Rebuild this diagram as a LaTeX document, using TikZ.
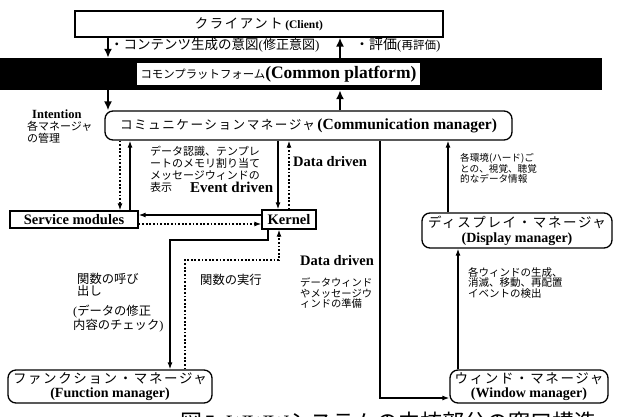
\documentclass[tikz,border=0pt]{standalone}
\usepackage{fontspec}
\setmainfont{Liberation Serif}
\newfontfamily\jpf{Noto Sans CJK JP}
\newfontfamily\jpw[LetterSpace=12]{Noto Sans CJK JP}
\usetikzlibrary{arrows.meta,calc}
\newcommand{\fs}[1]{\fontsize{#1}{#1}\selectfont}
\begin{document}
\begin{tikzpicture}[x=1pt,y=-1pt,
  box/.style={draw,line width=1.3pt,inner sep=0pt},
  rbox/.style={draw,line width=1.3pt,rounded corners=8pt,inner sep=0pt,align=center},
  arr/.style={line width=1.2pt,-{Latex[length=7pt,width=5pt]}},
  bigarr/.style={line width=2.6pt,-{Latex[length=9pt,width=8pt]}},
  dotarr/.style={line width=1.6pt,dash pattern=on 1.8pt off 1.8pt,-{Latex[length=7pt,width=5pt]}},
  ann/.style={inner sep=0pt,align=left,anchor=north west},
  lab/.style={inner sep=0pt,anchor=west}
]
\useasboundingbox (0,0) rectangle (626,416);
\clip (0,0) rectangle (626,416);

% column / row coordinates
\coordinate (c108) at (108,0);
\coordinate (c340) at (340,0);
\coordinate (c120) at (120,0);
\coordinate (c130) at (130,0);
\coordinate (c278) at (278,0);
\coordinate (c289) at (289,0);
\coordinate (c268) at (268,0);
\coordinate (c170) at (170,0);
\coordinate (c185) at (185,0);
\coordinate (c279) at (279,0);
\coordinate (c380) at (380,0);
\coordinate (c448) at (448,0);
\coordinate (c458) at (458,0);
\coordinate (r215) at (0,215);
\coordinate (r224) at (0,224);
\coordinate (r240) at (0,240);
\coordinate (r260) at (0,260);
\coordinate (r398) at (0,398);

% boxes
\node[box,minimum width=368,minimum height=26] (client) at (259,24)
  {{\jpw\fs{13.4}クライアント} {\fs{11.5}\bfseries(Client)}};
\node[fill=black,inner sep=0pt,minimum width=602,minimum height=32] (bar) at (301,74) {};
\node[fill=white,inner sep=0pt,minimum width=283,minimum height=22] (plat) at (278.5,74)
  {{\jpf\fs{11.4}コモンプラットフォーム}{\fs{17.5}\bfseries(Common platform)}};
\node[rbox,minimum width=407,minimum height=29] (comm) at (308.5,125.5)
  {{\jpw\fs{12.6}コミュニケーションマネージャ} {\fs{15.5}\bfseries(Communication manager)}};
\node[box,minimum width=128,minimum height=17] (serv) at (74,219.5)
  {\fs{14.5}\bfseries Service modules};
\node[box,minimum width=54,minimum height=19] (kern) at (289,219.5)
  {\fs{14.5}\bfseries Kernel};
\node[rbox,minimum width=204,minimum height=33,font=\fs{14}] (func) at (110,386.5)
  {{\jpw\fs{13.5}ファンクション・マネージャ}\\{\bfseries(Function manager)}};
\node[rbox,minimum width=190,minimum height=35,font=\fs{15}] (disp) at (517,230.5)
  {{\jpw\fs{13.5}ディスプレイ・マネージャ}\\{\fs{14}\bfseries(Display manager)}};
\node[rbox,minimum width=158,minimum height=33,font=\fs{14}] (win) at (529,386.5)
  {{\jpw\fs{13.5}ウィンド・マネージャ}\\{\bfseries(Window manager)}};

% thick arrows client / platform / communication
\draw[bigarr] (c108 |- client.south) -- (c108 |- bar.north);
\draw[bigarr] (c340 |- bar.north) -- (c340 |- client.south);
\draw[bigarr] (c108 |- bar.south) -- (c108 |- comm.north);
\draw[bigarr] (c340 |- comm.north) -- (c340 |- bar.south);

% communication <-> service modules
\draw[dotarr] (c120 |- comm.south) -- (c120 |- serv.north);
\draw[arr] (c130 |- serv.north) -- (c130 |- comm.south);
% communication <-> kernel
\draw[arr] (c278 |- comm.south) -- (c278 |- kern.north);
\draw[dotarr] (c289 |- kern.north) -- (c289 |- comm.south);
% kernel <-> service modules
\draw[arr] (kern.west |- r215) -- (serv.east |- r215);
\draw[dotarr] (serv.east |- r224) -- (kern.west |- r224);
% kernel <-> function manager
\draw[arr] (c268 |- kern.south) |- (c170 |- r240) -- (c170 |- func.north);
\draw[dotarr] (c185 |- func.north) |- (c279 |- r260) -- (c279 |- kern.south);
% communication -> window manager
\draw[arr] (c380 |- comm.south) |- (win.west |- r398);
% window -> display -> communication
\draw[arr] (c448 |- disp.north) -- (c448 |- comm.south);
\draw[arr] (c458 |- win.north) -- (c458 |- disp.south);

% labels
\node[lab] (l1) at (110,45) {{\jpf\fs{13.5}・コンテンツ生成の意図}{\fs{13}(}{\jpf\fs{13}修正意図}{\fs{13})}};
\node[lab] (l2) at (355,45) {{\jpf\fs{14}・評価}{\fs{13}(}{\jpf\fs{11.5}再評価}{\fs{13})}};
\node[lab] (l3) at (32,114) {\fs{12.5}\bfseries Intention};
\node[ann,font=\jpf\fs{11}] (l4) at (27,121) {各マネージャ\\[0.5pt]の管理};
\node[ann,font=\jpf\fs{11}] (l5) at (150,146) {データ認識、テンプレ\\[1pt]ートのメモリ割り当て\\[1pt]メッセージウィンドの\\[1pt]表示};
\node[lab] (l6) at (190,187) {\fs{15}\bfseries Event driven};
\node[lab] (l7) at (293,162) {\fs{14.5}\bfseries Data driven};
\node[ann,font=\jpf\fs{12.3}] (l8) at (77,272.5) {関数の呼び\\出し};
\node[ann,font=\jpf\fs{12.3}] (l9) at (73,304.5) {{\rmfamily(}データの修正\\内容のチェック{\rmfamily)}};
\node[lab] (l10) at (200,280) {\jpf\fs{12.3}関数の実行};
\node[lab] (l11) at (300,261) {\fs{14.5}\bfseries Data driven};
\node[ann,font=\jpf\fs{10.3}] (l12) at (300,278) {データウィンド\\やメッセージウ\\ィンドの準備};
\node[ann,font=\jpf\fs{9.6}] (l13) at (460,153) {各環境(ハード)ご\\[0.3pt]との、視覚、聴覚\\[0.3pt]的なデータ情報};
\node[ann,font=\jpf\fs{10.5}] (l14) at (468,267) {各ウィンドの生成、\\消滅、移動、再配置\\イベントの検出};

% caption (cut off at the bottom as in the reference)
\node[inner sep=0pt,anchor=base west] (cap) at (180,430)
  {{\jpf\fs{22}図} {\fs{22}5\ \ WWW}{\jpf\fs{22}システムの中核部分の窓口構造}};
\end{tikzpicture}
\end{document}
